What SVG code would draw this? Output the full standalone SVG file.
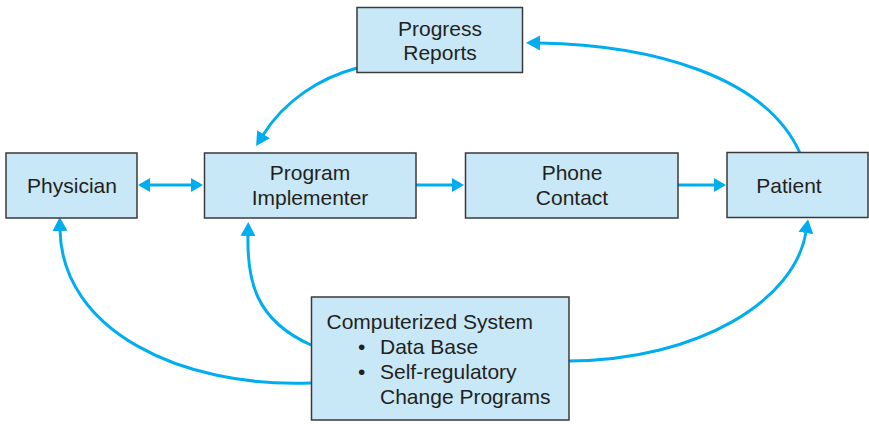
<svg xmlns="http://www.w3.org/2000/svg" width="869" height="424" viewBox="0 0 869 424">
<style>
.box{fill:#c8e8f8;stroke:#3a3a3a;stroke-width:1.5}
.t{font-family:"Liberation Sans",Arial,sans-serif;font-size:21px;fill:#231f20}
.c{text-anchor:middle}
.ln{fill:none;stroke:#00aeef;stroke-width:3}
</style>
<defs>
<marker id="ah" markerUnits="userSpaceOnUse" markerWidth="16" markerHeight="16" refX="1" refY="7.5" orient="auto">
<path d="M0,0 L14,7.5 L0,15 z" fill="#00aeef"/>
</marker>
<marker id="as" markerUnits="userSpaceOnUse" markerWidth="14" markerHeight="16" refX="1" refY="7" orient="auto-start-reverse">
<path d="M0,0 L12,7 L0,14 z" fill="#00aeef"/>
</marker>
</defs>
<g id="connectors">
<path class="ln" d="M149,185 L192,185" marker-start="url(#as)" marker-end="url(#as)"/>
<path class="ln" d="M416,185 L453,185" marker-end="url(#as)"/>
<path class="ln" d="M678,185 L715,185" marker-end="url(#as)"/>
<path class="ln" d="M800,153 C765,75 650,45 539,43" marker-end="url(#ah)"/>
<path class="ln" d="M357,68 C320,78 285,100 263,135" marker-end="url(#ah)"/>
<path class="ln" d="M311,383 C180,388 62,330 60,230" marker-end="url(#ah)"/>
<path class="ln" d="M311,345 C255,320 247,280 248,235" marker-end="url(#ah)"/>
<path class="ln" d="M569,361 C700,360 795,300 806,232" marker-end="url(#ah)"/>
</g>
<g id="progress-reports">
<rect class="box" x="357" y="7.5" width="165.5" height="65"/>
<text class="t c" x="440" y="36">Progress</text>
<text class="t c" x="440" y="60">Reports</text>
</g>
<g id="physician">
<rect class="box" x="6" y="153" width="131" height="65"/>
<text class="t c" x="72" y="193">Physician</text>
</g>
<g id="program-implementer">
<rect class="box" x="204.5" y="153" width="211.5" height="65"/>
<text class="t c" x="310" y="180">Program</text>
<text class="t c" x="310" y="205">Implementer</text>
</g>
<g id="phone-contact">
<rect class="box" x="465.5" y="153" width="212.5" height="65"/>
<text class="t c" x="572" y="180">Phone</text>
<text class="t c" x="572" y="205">Contact</text>
</g>
<g id="patient">
<rect class="box" x="727" y="152.5" width="141" height="65"/>
<text class="t c" x="789" y="193">Patient</text>
</g>
<g id="computerized-system">
<rect class="box" x="311.5" y="297" width="257.5" height="123"/>
<text class="t" x="326.5" y="329">Computerized System</text>
<text class="t" x="358" y="354">•</text>
<text class="t" x="380" y="354">Data Base</text>
<text class="t" x="358" y="379">•</text>
<text class="t" x="380" y="379">Self-regulatory</text>
<text class="t" x="380" y="404">Change Programs</text>
</g>
</svg>
